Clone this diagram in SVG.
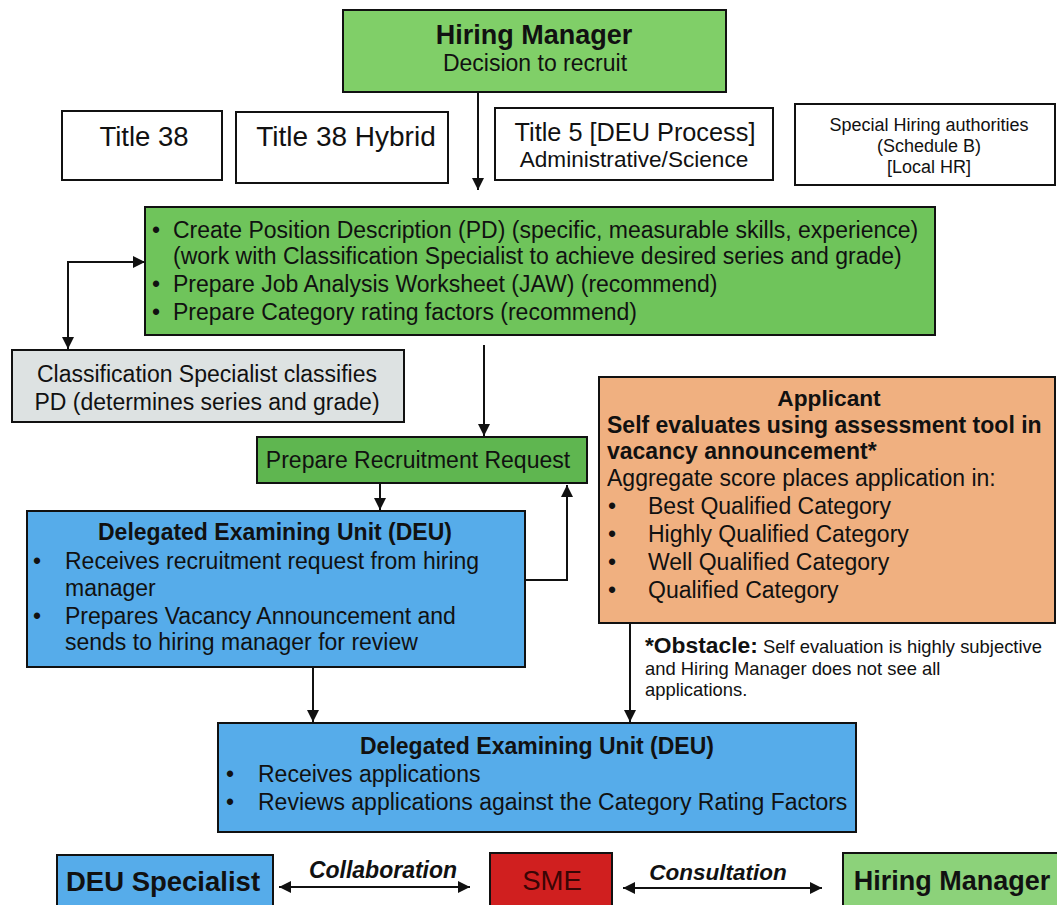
<svg xmlns="http://www.w3.org/2000/svg" width="1057" height="905" viewBox="0 0 1057 905">
<style>
text{font-family:"Liberation Sans",Arial,sans-serif;fill:#111}
.b{font-weight:bold}
.box{stroke:#111;stroke-width:2}
.w{fill:#fff}
.g1{fill:#80cf68}
.g2{fill:#6fc45b}
.g3{fill:#5fb650}
.gr{fill:#dde2e2}
.bl{fill:#56acea}
.or{fill:#f0b080}
.rd{fill:#d01f1f}
.g4{fill:#8cd27a}
.c{text-anchor:middle}
.ln{stroke:#111;stroke-width:2;fill:none}
</style>
<defs>
<marker id="ah" viewBox="0 0 10 10" refX="10" refY="5" markerWidth="6" markerHeight="6" markerUnits="strokeWidth" orient="auto-start-reverse">
<path d="M0,0 L10,5 L0,10 z" fill="#111"/>
</marker>
</defs>
<rect width="1057" height="905" fill="#fff"/>

<g id="hiring-manager">
<rect class="box g1" x="343" y="10" width="383" height="82"/>
<text class="b c" x="534" y="44" font-size="27">Hiring Manager</text>
<text class="c" x="535" y="71" font-size="23">Decision to recruit</text>
</g>

<g id="title38">
<rect class="box w" x="62" y="111" width="160" height="69"/>
<text class="c" x="144" y="146" font-size="27.5">Title 38</text>
</g>

<g id="title38hybrid">
<rect class="box w" x="236" y="112" width="212" height="71"/>
<text class="c" x="346" y="146" font-size="28">Title 38 Hybrid</text>
</g>

<g id="title5">
<rect class="box w" x="495" y="108" width="278" height="72"/>
<text class="c" x="635" y="141" font-size="25.3">Title 5 [DEU Process]</text>
<text class="c" x="634" y="167" font-size="22.6">Administrative/Science</text>
</g>

<g id="special-hiring">
<rect class="box w" x="795" y="104" width="260" height="81"/>
<text class="c" x="929" y="131" font-size="18">Special Hiring authorities</text>
<text class="c" x="929" y="152" font-size="18">(Schedule B)</text>
<text class="c" x="929" y="173" font-size="18">[Local HR]</text>
</g>

<g id="position-description">
<rect class="box g2" x="145" y="207" width="790" height="128"/>
<g font-size="23">
<text x="152" y="238">•</text>
<text x="173" y="238">Create Position Description (PD) (specific, measurable skills, experience)</text>
<text x="173" y="264">(work with Classification Specialist to achieve desired series and grade)</text>
<text x="152" y="292">•</text>
<text x="173" y="292">Prepare Job Analysis Worksheet (JAW) (recommend)</text>
<text x="152" y="320">•</text>
<text x="173" y="320">Prepare Category rating factors (recommend)</text>
</g>
</g>

<g id="classification-specialist">
<rect class="box gr" x="12" y="350" width="392" height="72"/>
<text class="c" x="207" y="382" font-size="23">Classification Specialist classifies</text>
<text class="c" x="207" y="410" font-size="23">PD (determines series and grade)</text>
</g>

<g id="prepare-recruitment">
<rect class="box g3" x="257" y="437" width="330" height="46"/>
<text class="c" x="418" y="468" font-size="23">Prepare Recruitment Request</text>
</g>

<g id="deu1">
<rect class="box bl" x="27" y="511" width="498" height="156"/>
<text class="b c" x="275" y="540" font-size="23">Delegated Examining Unit (DEU)</text>
<g font-size="23">
<text x="33" y="569">•</text>
<text x="65" y="569">Receives recruitment request from hiring</text>
<text x="65" y="596">manager</text>
<text x="33" y="624">•</text>
<text x="65" y="624">Prepares Vacancy Announcement and</text>
<text x="65" y="650">sends to hiring manager for review</text>
</g>
</g>

<g id="applicant">
<rect class="box or" x="599" y="377" width="456" height="246"/>
<text class="b c" x="829" y="406" font-size="22.7">Applicant</text>
<text class="b" x="607" y="433" font-size="23">Self evaluates using assessment tool in</text>
<text class="b" x="607" y="459" font-size="23">vacancy announcement*</text>
<g font-size="23">
<text x="607" y="486">Aggregate score places application in:</text>
<text x="608" y="514">•</text>
<text x="648" y="514">Best Qualified Category</text>
<text x="608" y="542">•</text>
<text x="648" y="542">Highly Qualified Category</text>
<text x="608" y="570">•</text>
<text x="648" y="570">Well Qualified Category</text>
<text x="608" y="598">•</text>
<text x="648" y="598">Qualified Category</text>
</g>
</g>

<g id="obstacle-note">
<text x="645" y="653" font-size="18.4"><tspan class="b" font-size="22.8">*Obstacle:</tspan> Self evaluation is highly subjective</text>
<text x="645" y="675" font-size="18.4">and Hiring Manager does not see all</text>
<text x="645" y="696" font-size="18.4">applications.</text>
</g>

<g id="deu2">
<rect class="box bl" x="218" y="723" width="638" height="109"/>
<text class="b c" x="537" y="754" font-size="23">Delegated Examining Unit (DEU)</text>
<g font-size="23">
<text x="226" y="782">•</text>
<text x="258" y="782">Receives applications</text>
<text x="226" y="810">•</text>
<text x="258" y="810">Reviews applications against the Category Rating Factors</text>
</g>
</g>

<g id="deu-specialist">
<rect class="box bl" x="57" y="855" width="216" height="55"/>
<text class="b c" x="163" y="891" font-size="27.5">DEU Specialist</text>
</g>

<g id="sme">
<rect class="box rd" x="490" y="853" width="122" height="57"/>
<text class="c" x="552" y="890" font-size="27.5" style="fill:#3a0505">SME</text>
</g>

<g id="hiring-manager-bottom">
<rect class="box g4" x="843" y="853" width="216" height="57"/>
<text class="b c" x="952" y="890" font-size="27">Hiring Manager</text>
</g>

<g id="connectors">
<line class="ln" x1="478" y1="92" x2="478" y2="190" marker-end="url(#ah)"/>
<path class="ln" d="M68,349 V262 H145" marker-start="url(#ah)" marker-end="url(#ah)"/>
<line class="ln" x1="484" y1="345" x2="484" y2="436" marker-end="url(#ah)"/>
<line class="ln" x1="380" y1="483" x2="380" y2="510" marker-end="url(#ah)"/>
<path class="ln" d="M525,580 H567 V485" marker-end="url(#ah)"/>
<line class="ln" x1="313" y1="667" x2="313" y2="722" marker-end="url(#ah)"/>
<line class="ln" x1="630" y1="623" x2="630" y2="722" marker-end="url(#ah)"/>
<line class="ln" x1="279" y1="887" x2="470" y2="887" marker-start="url(#ah)" marker-end="url(#ah)"/>
<line class="ln" x1="623" y1="888" x2="822" y2="888" marker-start="url(#ah)" marker-end="url(#ah)"/>
<text class="b c" x="383" y="878" font-size="23" font-style="italic">Collaboration</text>
<text class="b c" x="718" y="880" font-size="22.5" font-style="italic">Consultation</text>
</g>
</svg>
